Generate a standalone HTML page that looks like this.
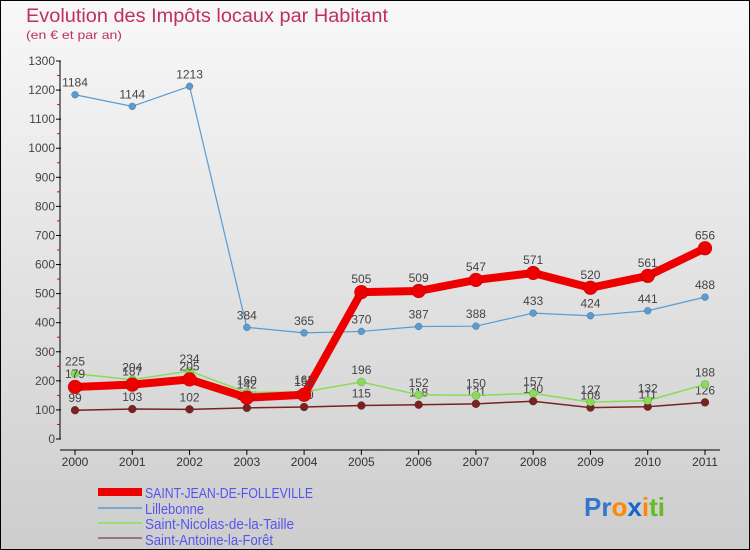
<!DOCTYPE html>
<html><head><meta charset="utf-8"><style>
html,body{margin:0;padding:0;}
svg{display:block;font-family:"Liberation Sans",sans-serif;}
</style></head><body>
<svg id="chart" width="750" height="550" viewBox="0 0 750 550" xmlns="http://www.w3.org/2000/svg">
<defs>
<linearGradient id="bg" x1="0" y1="0" x2="0" y2="1">
<stop offset="0" stop-color="#f8f8f8"/><stop offset="1" stop-color="#cdcdcd"/>
</linearGradient>
</defs>
<rect x="0.5" y="0.5" width="749" height="549" fill="url(#bg)" stroke="#000"/>
<text x="26" y="22" font-size="19" fill="#c0305a" textLength="362" lengthAdjust="spacingAndGlyphs">Evolution des Impôts locaux par Habitant</text>
<text x="26" y="39" font-size="12" fill="#c0305a" textLength="96" lengthAdjust="spacingAndGlyphs">(en € et par an)</text>
<g id="axes"></g>
<g id="series"></g>
<g id="legend">
<rect x="98" y="488" width="44" height="8" fill="#ee0000"/>
<text x="145" y="498" font-size="15" fill="#5555ee" textLength="168" lengthAdjust="spacingAndGlyphs">SAINT-JEAN-DE-FOLLEVILLE</text>
<line x1="98" y1="508" x2="142" y2="508" stroke="#7aa7cc" stroke-width="2"/>
<text x="145" y="514" font-size="15" fill="#5555ee" textLength="59" lengthAdjust="spacingAndGlyphs">Lillebonne</text>
<line x1="98" y1="523" x2="142" y2="523" stroke="#99dd77" stroke-width="2"/>
<text x="145" y="529" font-size="15" fill="#5555ee" textLength="149" lengthAdjust="spacingAndGlyphs">Saint-Nicolas-de-la-Taille</text>
<line x1="98" y1="538" x2="142" y2="538" stroke="#997777" stroke-width="2"/>
<text x="145" y="545" font-size="15" fill="#5555ee" textLength="128" lengthAdjust="spacingAndGlyphs">Saint-Antoine-la-Forêt</text>
</g>
<g font-size="26" font-weight="bold">
<text x="584" y="516"><tspan fill="#3377cc">Pr</tspan><tspan fill="#ff8800">o</tspan><tspan fill="#1166cc">x</tspan><tspan fill="#ff8800">i</tspan><tspan fill="#66bb22">t</tspan><tspan fill="#66bb22">i</tspan></text>
</g>
</svg>
<script>
var years=["2000","2001","2002","2003","2004","2005","2006","2007","2008","2009","2010","2011"];
var sjValues=[179,187,205,142,152,505,509,547,571,520,561,656];
var lilleValues=[1184,1144,1213,384,365,370,387,388,433,424,441,488];
var snValues=[225,204,234,160,162,196,152,150,157,127,132,188];
var saValues=[99,103,102,107,110,115,118,121,130,108,111,126];
var yTicks=[0,100,200,300,400,500,600,700,800,900,1000,1100,1200,1300];
var NS="http://www.w3.org/2000/svg";
function xs(i){return 75+i*(705-75)/(years.length-1);}
function ys(v){return 439-v*(439-61)/1300;}
function mk(tag,attrs,parent){var e=document.createElementNS(NS,tag);for(var k in attrs)e.setAttribute(k,attrs[k]);parent.appendChild(e);return e;}
var axes=document.getElementById('axes');
var yaxis=mk('line',{x1:60,y1:61,x2:60,y2:439,stroke:'#000','stroke-width':1},axes);


yTicks.forEach(function(t){
  var y=ys(t);
  mk('line',{x1:56,y1:y,x2:61,y2:y,stroke:'#000'},axes);
  var tx=mk('text',{x:55,y:y+4,'font-size':12,fill:'#444','text-anchor':'end'},axes);
  tx.textContent=t;
  
  
  if(t<1300){var ym=ys(t+50);mk('line',{x1:57,y1:ym,x2:60,y2:ym,stroke:'#e00'},axes);}
});
var xaxis=mk('line',{x1:60,y1:450,x2:720,y2:450,stroke:'#000'},axes);


years.forEach(function(yr,i){
  var x=xs(i);
  mk('line',{x1:x,y1:450,x2:x,y2:455,stroke:'#000'},axes);
  var tx=mk('text',{x:x,y:466,'font-size':12,fill:'#333','text-anchor':'middle'},axes);
  tx.textContent=yr;
  
  
});
var sg=document.getElementById('series');
function series(vals,color,w,r,name,labelDy){
  var g=mk('g',{},sg);
  
  
  var pts=vals.map(function(v,i){return xs(i)+','+ys(v);}).join(' ');
  var pl=mk('polyline',{points:pts,fill:'none',stroke:color,'stroke-width':w,'stroke-linejoin':'round'},g);
  
  
  vals.forEach(function(v,i){
    var c=mk('circle',{cx:xs(i),cy:ys(v),r:r,fill:color,stroke:'rgba(0,0,0,0.3)','stroke-width':0.5},g);
    
    
    var t=mk('text',{x:xs(i),y:ys(v)+labelDy,'font-size':12,fill:'#444','text-anchor':'middle'},g);
    t.textContent=v;
    
    
  });
}
series(saValues,'#7a2222',1.5,4,'saint-antoine',-8);
series(snValues,'#88dd55',1.5,4,'saint-nicolas',-8);
series(lilleValues,'#5a9bd0',1.2,3.5,'lillebonne',-8);
series(sjValues,'#ee0000',8,7,'saint-jean',-9);
</script>
</body></html>
